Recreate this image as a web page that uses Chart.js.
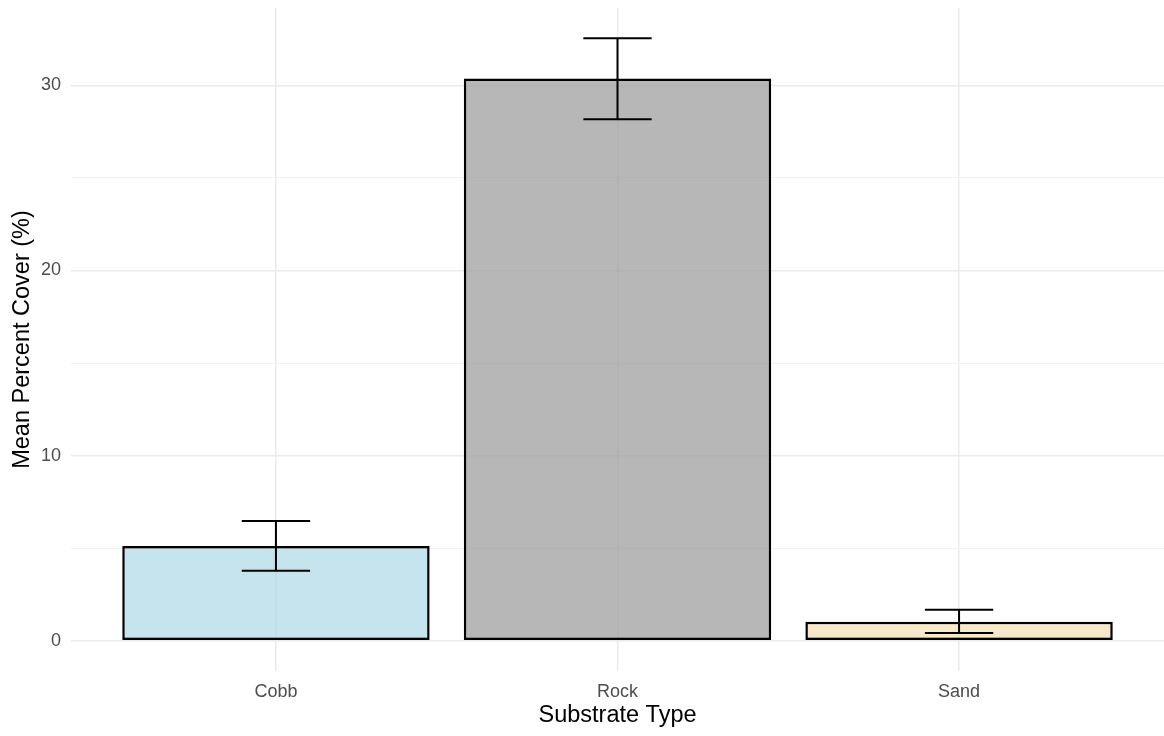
<!DOCTYPE html>
<html>
<head>
  <script src="https://cdn.jsdelivr.net/npm/chart.js"></script>
  <style>
    html, body { margin: 0; padding: 0; background: #fff; }
    #wrap { width: 1164px; height: 736px; }
  </style>
</head>
<body>
  <div id="wrap"><canvas id="chartContainer" width="1164" height="736"></canvas></div>
  <script>
    // substrate categories and their means / standard error bounds
    const categories = ['Cobb', 'Rock', 'Sand'];
    const meanCover = [5.12, 30.37, 1.03];
    const errLow = [3.78, 28.17, 0.42];
    const errHigh = [6.47, 32.55, 1.68];
    const yTicks = [0, 10, 20, 30];
    const yMinor = [5, 15, 25];
    const fills = ['rgba(173,216,230,0.7)', 'rgba(153,153,153,0.7)', 'rgba(245,222,179,0.7)'];

    // ggplot style expansion: 0.6 units on discrete x, 5% on y
    const yMin = -0.05 * (errHigh[1] - 0);
    const yMax = errHigh[1] * 1.05;

    const errorBars = {
      id: 'errorBars',
      afterDatasetsDraw(chart) {
        const ctx = chart.ctx;
        const xs = chart.scales.x, ys = chart.scales.y;
        const half = (xs.getPixelForValue(1) - xs.getPixelForValue(0)) * 0.1;
        ctx.save();
        ctx.strokeStyle = '#000';
        ctx.lineWidth = 2;
        for (let i = 0; i < categories.length; i++) {
          const x = xs.getPixelForValue(i);
          const lo = ys.getPixelForValue(errLow[i]);
          const hi = ys.getPixelForValue(errHigh[i]);
          ctx.beginPath();
          ctx.moveTo(x, lo); ctx.lineTo(x, hi);
          ctx.moveTo(x - half, lo); ctx.lineTo(x + half, lo);
          ctx.moveTo(x - half, hi); ctx.lineTo(x + half, hi);
          ctx.stroke();
        }
        ctx.restore();
      }
    };

    const font = 'Liberation Sans, Arial, sans-serif';
    const ctx = document.getElementById('chartContainer').getContext('2d');
    new Chart(ctx, {
      type: 'bar',
      data: {
        datasets: [{
          data: categories.map((c, i) => ({ x: i, y: meanCover[i] })),
          backgroundColor: fills,
          borderColor: '#000',
          borderWidth: 2.5,
          borderSkipped: false,
          barPercentage: 0.9,
          categoryPercentage: 1.0,
        }],
      },
      plugins: [errorBars],
      options: {
        responsive: false,
        animation: false,
        layout: { padding: { top: 8, right: 0, left: 0, bottom: 0 } },
        plugins: { legend: { display: false }, tooltip: { enabled: false } },
        scales: {
          x: {
            type: 'linear',
            offset: false,
            min: -0.6,
            max: 2.6,
            afterBuildTicks: (s) => { s.ticks = categories.map((c, i) => ({ value: i })); },
            afterFit: (s) => { s.height = 65; s.paddingLeft = 0; s.paddingRight = 0; },
            border: { display: false },
            grid: { color: '#ebebeb', lineWidth: 1.5, drawTicks: false, offset: false },
            ticks: {
              callback: (v) => categories[v],
              color: '#4d4d4d',
              font: { family: font, size: 18 },
              padding: 10,
              maxRotation: 0,
            },
            title: {
              display: true,
              text: 'Substrate Type',
              color: '#000',
              font: { family: font, size: 23.5 },
              padding: { top: 0, bottom: 6 },
            },
          },
          y: {
            min: yMin,
            max: yMax,
            afterBuildTicks: (s) => {
              s.ticks = yTicks.concat(yMinor).sort((a, b) => a - b).map(v => ({ value: v }));
            },
            afterFit: (s) => { s.width = 71; s.paddingTop = 0; s.paddingBottom = 0; },
            border: { display: false },
            grid: {
              color: (c) => yTicks.includes(c.tick.value) ? '#ebebeb' : '#f2f2f2',
              lineWidth: (c) => yTicks.includes(c.tick.value) ? 1.5 : 1,
              drawTicks: false,
            },
            ticks: {
              callback: (v) => yTicks.includes(v) ? String(v) : '',
              color: '#4d4d4d',
              font: { family: font, size: 18 },
              padding: 10,
            },
            title: {
              display: true,
              text: 'Mean Percent Cover (%)',
              color: '#000',
              font: { family: font, size: 23.5 },
              padding: { top: 8, bottom: 0 },
            },
          },
        },
      },
    });
  </script>
</body>
</html>
